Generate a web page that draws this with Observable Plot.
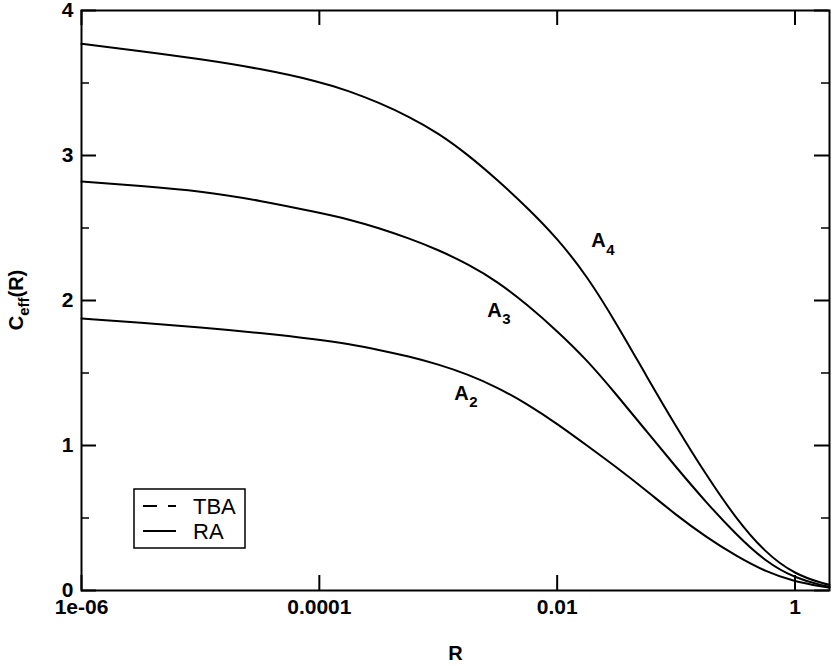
<!DOCTYPE html>
<html><head><meta charset="utf-8">
<script src="https://cdn.jsdelivr.net/npm/d3@7"></script>
<script src="https://cdn.jsdelivr.net/npm/@observablehq/plot@0.6"></script>
<style>body{margin:0;background:#fff;}</style>
</head><body><div id="chart"></div>
<script>
// ---- data ----
const R = [1e-6, 3.16e-6, 1e-5, 3.16e-5, 1e-4, 1.78e-4, 3.16e-4, 5.62e-4, 1e-3, 1.78e-3, 3.16e-3, 5.62e-3, 0.01, 0.0178, 0.0316, 0.0562, 0.1, 0.178, 0.316, 0.562, 1, 1.78, 1.95];
const cA2 = [1.876, 1.847, 1.815, 1.777, 1.73, 1.70, 1.66, 1.615, 1.56, 1.49, 1.40, 1.285, 1.15, 1.00, 0.85, 0.69, 0.52, 0.37, 0.24, 0.13, 0.06, 0.025, 0.02];
const cA3 = [2.82, 2.79, 2.755, 2.69, 2.605, 2.56, 2.50, 2.43, 2.35, 2.25, 2.13, 1.97, 1.79, 1.59, 1.35, 1.10, 0.85, 0.61, 0.39, 0.20, 0.085, 0.03, 0.028];
const cA4 = [3.77, 3.72, 3.665, 3.60, 3.51, 3.445, 3.365, 3.27, 3.155, 3.005, 2.83, 2.64, 2.43, 2.17, 1.84, 1.48, 1.13, 0.80, 0.50, 0.26, 0.11, 0.045, 0.04];
const seriesNames = ["A2", "A3", "A4"];
const xTicks = [1e-6, 1e-4, 1e-2, 1];
const xTickLabels = ["1e-06", "0.0001", "0.01", "1"];
const yTicks = [0, 1, 2, 3, 4];
const yMinorTicks = [0.5, 1.5, 2.5, 3.5];
const labelBase = ["A", "A", "A"];
const labelSub = ["2", "3", "4"];
const labelR = [0.00136, 0.00258, 0.0193];
const labelC = [1.36, 1.93, 2.41];
const legendNames = ["TBA", "RA"];
const xTitle = "R";

// ---- build tables ----
const rows = [];
[cA2, cA3, cA4].forEach((arr, k) => arr.forEach((c, i) => rows.push({series: seriesNames[k], R: R[i], C: c})));
const labels = labelSub.map((s, i) => ({base: labelBase[i], sub: s, R: labelR[i], C: labelC[i]}));

const font = "'Liberation Sans', Arial, Helvetica, sans-serif";
const W = 832, H = 666, mL = 81, mR = 3, mT = 10, mB = 76;
const fw = W - mL - mR, fh = H - mT - mB;

const plot = Plot.plot({
  width: W, height: H,
  marginLeft: mL, marginRight: mR, marginTop: mT, marginBottom: mB,
  style: {fontFamily: font, background: "#fff", color: "#000"},
  x: {type: "log", domain: [1e-6, 1.95]},
  y: {domain: [0, 4]},
  marks: [
    Plot.line(rows, {x: "R", y: "C", z: "series", stroke: "#000", strokeWidth: 2, curve: "basis"}),
    // inward major ticks, bottom & top
    Plot.tickX(xTicks, {x: d => d, stroke: "#000", strokeWidth: 2, insetTop: fh - 15}),
    Plot.tickX(xTicks, {x: d => d, stroke: "#000", strokeWidth: 2, insetBottom: fh - 15}),
    // inward ticks, left & right
    Plot.tickY(yTicks, {y: d => d, stroke: "#000", strokeWidth: 2, insetRight: fw - 15}),
    Plot.tickY(yTicks, {y: d => d, stroke: "#000", strokeWidth: 2, insetLeft: fw - 15}),
    Plot.tickY(yMinorTicks, {y: d => d, stroke: "#000", strokeWidth: 1.5, insetRight: fw - 8}),
    Plot.tickY(yMinorTicks, {y: d => d, stroke: "#000", strokeWidth: 1.5, insetLeft: fw - 8}),
    Plot.axisX(xTicks, {anchor: "bottom", tickSize: 0, tickPadding: 9, tickFormat: d => xTickLabels[xTicks.indexOf(d)], fontSize: 21, fontWeight: "bold", label: null}),
    Plot.axisY(yTicks, {anchor: "left", tickSize: 0, tickPadding: 8, tickFormat: d => String(d), fontSize: 21, fontWeight: "bold", label: null}),
    Plot.text([xTitle], {frameAnchor: "bottom", dy: 63, text: d => d, fontSize: 20, fontWeight: "bold", lineAnchor: "middle"}),
    // curve labels with subscripts
    Plot.text(labels, {x: "R", y: "C", text: "base", textAnchor: "start", lineAnchor: "middle", fontSize: 20, fontWeight: "bold"}),
    Plot.text(labels, {x: "R", y: "C", text: "sub", textAnchor: "start", lineAnchor: "middle", dx: 15, dy: 9, fontSize: 15, fontWeight: "bold"}),
    Plot.frame({stroke: "#000", strokeWidth: 2})
  ]
});

const svg = d3.select(plot);
// y-axis title with subscript
const yt = svg.append("text")
  .attr("transform", `translate(${mL - 58},${mT + fh / 2}) rotate(-90)`)
  .attr("text-anchor", "middle")
  .attr("font-family", font).attr("font-weight", "bold").attr("font-size", 20).attr("fill", "#000");
yt.append("tspan").text("C");
yt.append("tspan").attr("font-size", 15).attr("dy", 6).text("eff");
yt.append("tspan").attr("dy", -6).text("(R)");

// legend box
const lg = svg.append("g").attr("text-anchor", "start");
lg.append("rect").attr("x", 134).attr("y", 489).attr("width", 111).attr("height", 59)
  .attr("fill", "#fff").attr("stroke", "#000").attr("stroke-width", 1.5);
legendNames.forEach((name, i) => {
  const y = 506 + i * 25;
  lg.append("line").attr("x1", 143).attr("x2", 176).attr("y1", y).attr("y2", y)
    .attr("stroke", "#000").attr("stroke-width", 2)
    .attr("stroke-dasharray", i === 0 ? "14,11" : null);
  lg.append("text").attr("x", 193).attr("y", y + 8).attr("font-family", font)
    .attr("text-anchor", "start")
    .attr("font-size", 22).attr("fill", "#000").text(name);
});

document.getElementById("chart").appendChild(plot);
</script>
</body></html>
